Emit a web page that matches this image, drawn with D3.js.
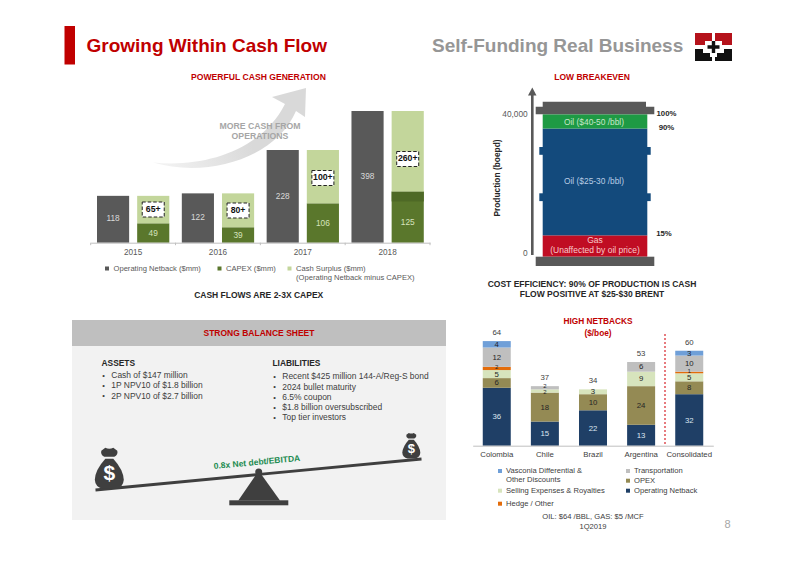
<!DOCTYPE html>
<html>
<head>
<meta charset="utf-8">
<script src="https://cdn.jsdelivr.net/npm/d3@7"></script>
<style>
  html, body { margin: 0; padding: 0; background: #fff; }
  svg { display: block; }
  text { font-family: "Liberation Sans", Arial, sans-serif; }
</style>
</head>
<body>
<svg id="chart" width="800" height="566"></svg>
<script>
// cash flow chart
const years = ["2015", "2016", "2017", "2018"];
const operatingNetback = [118, 122, 228, 398];
const capex = [49, 39, 106, 125];
const cashSurplus = [69, 83, 122, 273];
const surplusTags = ["65+", "80+", "100+", "260+"];

// breakeven chart (percent of production)
const breakevenLabels = ["Gas", "Oil ($25-30 /bbl)", "Oil ($40-50 /bbl)"];
const breakevenShares = [15, 75, 10];
const breakevenTicks = [0, 40000];

// netbacks chart
const countries = ["Colombia", "Chile", "Brazil", "Argentina", "Consolidated"];
const netbackTotals = [64, 37, 34, 53, 60];
const netbackSeries = ["Operating Netback", "OPEX", "Selling Expenses & Royalties", "Hedge / Other", "Transportation", "Vasconia Differential"];
const operatingNet = [36, 15, 22, 13, 32];
const opex = [6, 18, 10, 24, 8];
const selling = [5, 2, 3, 9, 5];
const hedge = [2, 0, 0, 0, 1];
const transportation = [12, 2, 0, 6, 10];
const vasconia = [4, 0, 0, 0, 3];

const assets = ["Cash of $147 million", "1P NPV10 of $1.8 billion", "2P NPV10 of $2.7 billion"];
const liabilities = ["Recent $425 million 144-A/Reg-S bond", "2024 bullet maturity", "6.5% coupon", "$1.8 billion oversubscribed", "Top tier investors"];

const red = "#c00000";
const svg = d3.select("#chart");
const defs = svg.append("defs");

function label(g, str, x, y, size, fill, opts) {
  opts = opts || {};
  return g.append("text")
    .text(str)
    .attr("x", x)
    .attr("y", y)
    .attr("font-size", size)
    .attr("fill", fill)
    .attr("text-anchor", opts.anchor || "middle")
    .attr("dominant-baseline", "middle")
    .attr("font-weight", opts.bold ? "bold" : "normal");
}

// Header
svg.append("rect").attr("x", 64.5).attr("y", 26).attr("width", 10.5).attr("height", 38.5).attr("fill", red);
label(svg, "Growing Within Cash Flow", 86.5, 47, 19, red, { anchor: "start", bold: true });
label(svg, "Self-Funding Real Business", 432, 47, 19, "#969696", { anchor: "start", bold: true });

// Logo
const logo = svg.append("g").attr("transform", "translate(695,33)");
logo.append("path").attr("fill", "#b5121b").attr("d", "M0,0H17V8H10V12H0Z M20,0H37V12H27V8H20Z");
logo.append("path").attr("fill", "#111").attr("d", "M0,16H8V20H15V24H17V28H0Z M29,16H37V28H20V24H22V20H29Z");
logo.append("path").attr("fill", "#111").attr("d", "M16.8,8H20.2V12.3H24.5V15.7H20.2V20H16.8V15.7H12.5V12.3H16.8Z");

// Panel 1: cash flow
const cashG = svg.append("g");
label(cashG, "POWERFUL CASH GENERATION", 258.5, 78, 8.6, red, { bold: true });

const swoosh = defs.append("linearGradient").attr("id", "swoosh").attr("x1", 0).attr("x2", 1).attr("y1", 0.6).attr("y2", 0.4);
swoosh.append("stop").attr("offset", 0).attr("stop-color", "#f2f2f2");
swoosh.append("stop").attr("offset", 0.6).attr("stop-color", "#d9d9d9");
cashG.append("path")
  .attr("fill", "url(#swoosh)")
  .attr("d", "M153,162.5 C205,168 262,150 285,104 L272,97 L306,88 L305,117 L296,111 C275,160 205,178 153,162.5Z");
label(cashG, "MORE CASH FROM", 260, 127, 8.7, "#a6a6a6", { bold: true });
label(cashG, "OPERATIONS", 260, 137, 8.7, "#a6a6a6", { bold: true });

// axis is broken in the source, the bars are not on one linear scale
const yCash = d3.scaleLinear()
  .domain([0, 49, 106, 125, 228, 398])
  .range([242.7, 223.3, 203.3, 191.5, 150, 111]);
const xYear = d3.scaleBand().domain(years).range([90.7, 430]);
const xInner = d3.scaleBand().domain(["netback", "other"]).range([6.3, 78.6]).paddingInner(0.2);

years.forEach((year, i) => {
  const g = cashG.append("g").attr("transform", `translate(${xYear(year)},0)`);
  const bw = xInner.bandwidth();
  g.append("rect").attr("x", xInner("netback")).attr("y", yCash(operatingNetback[i]))
    .attr("width", bw).attr("height", yCash(0) - yCash(operatingNetback[i])).attr("fill", "#595959");
  label(g, operatingNetback[i], xInner("netback") + bw / 2, (yCash(0) + yCash(operatingNetback[i])) / 2, 8.3, "#d9d9d9");
  g.append("rect").attr("x", xInner("other")).attr("y", yCash(capex[i]))
    .attr("width", bw).attr("height", yCash(0) - yCash(capex[i])).attr("fill", "#5a772c");
  // the 2018 bar has a darker band on top in the source
  const labelTop = i === 3 ? yCash(109) : yCash(capex[i]);
  if (i === 3) {
    g.append("rect").attr("x", xInner("other")).attr("y", yCash(capex[i]))
      .attr("width", bw).attr("height", labelTop - yCash(capex[i])).attr("fill", "#4e6926");
  }
  label(g, capex[i], xInner("other") + bw / 2, (yCash(0) + labelTop) / 2 + 0.5, 8.3, "#d7e4bd");
  const top = yCash(capex[i] + cashSurplus[i]);
  g.append("rect").attr("x", xInner("other")).attr("y", top)
    .attr("width", bw).attr("height", yCash(capex[i]) - top).attr("fill", "#c3d69b");
});

// Dashed surplus tags
const tagPos = [209.5, 210.5, 178, 159];
years.forEach((year, i) => {
  const cx = xYear(year) + xInner("other") + xInner.bandwidth() / 2;
  cashG.append("rect").attr("x", cx - 11).attr("y", tagPos[i] - 7.5).attr("width", 22).attr("height", 15)
    .attr("fill", "#fff").attr("stroke", "#222").attr("stroke-width", 1).attr("stroke-dasharray", "3.5,2");
  label(cashG, surplusTags[i], cx, tagPos[i], 8.7, "#111", { bold: true });
});

const cashAxis = cashG.append("g")
  .attr("transform", "translate(0,242.7)")
  .call(d3.axisBottom(xYear).tickSize(0).tickPadding(6));
cashAxis.select(".domain").attr("stroke", "#bfbfbf");
cashAxis.selectAll("text").attr("font-size", 8.2).attr("fill", "#595959").attr("font-family", null);
d3.range(5).forEach(i => {
  const x = 90.7 + i * xYear.step();
  cashAxis.append("line").attr("x1", x).attr("x2", x).attr("y1", 0).attr("y2", 2.5).attr("stroke", "#bfbfbf");
});

const cashLegend = [
  { text: "Operating Netback ($mm)", color: "#595959", x: 107 },
  { text: "CAPEX ($mm)", color: "#5a772c", x: 219.5 },
  { text: "Cash Surplus ($mm)", color: "#c3d69b", x: 289.5 }
];
cashLegend.forEach(d => {
  cashG.append("rect").attr("x", d.x - 2).attr("y", 266.5).attr("width", 4).attr("height", 4).attr("fill", d.color);
  label(cashG, d.text, d.x + 6.5, 268.8, 7.6, "#595959", { anchor: "start" });
});
label(cashG, "(Operating Netback minus CAPEX)", 296, 278, 7.6, "#595959", { anchor: "start" });
label(cashG, "CASH FLOWS ARE 2-3X CAPEX", 258.7, 296, 8.5, "#262626", { bold: true });

// Panel 2: breakeven
const beG = svg.append("g");
label(beG, "LOW BREAKEVEN", 592, 78, 8.5, red, { bold: true });
const yBe = d3.scaleLinear().domain([0, 100]).range([256.7, 114.3]);
const yProd = d3.scaleLinear().domain(breakevenTicks).range([254, 115]);
const beColors = ["#c00d23", "#134a7c", "#1e9a44"];
const xBe = { x: 542.7, w: 104.6 };

// side tabs behind the blue block
[147, 193.3].forEach(y => {
  beG.append("rect").attr("x", 539.3).attr("y", y).attr("width", 111.4).attr("height", 7.8).attr("fill", "#134a7c");
});
let cum = 0;
const beLayers = breakevenShares.map((v, i) => {
  const d = { y0: cum, y1: cum + v, color: beColors[i], name: breakevenLabels[i] };
  cum += v;
  return d;
});
beG.selectAll("rect.layer").data(beLayers).enter().append("rect")
  .attr("class", "layer")
  .attr("x", xBe.x).attr("width", xBe.w)
  .attr("y", d => yBe(d.y1))
  .attr("height", d => yBe(d.y0) - yBe(d.y1))
  .attr("fill", d => d.color);

// frame caps
beG.append("path").attr("fill", "#595959")
  .attr("d", "M542.7,101.7H646V106.7H654.3V114.3H535.7V106.7H542.7Z");
beG.append("rect").attr("x", 535.7).attr("y", 256.7).attr("width", 118.6).attr("height", 9.3).attr("fill", "#595959");

// axis arrow
beG.append("rect").attr("x", 531).attr("y", 93).attr("width", 2.6).attr("height", 162).attr("fill", "#595959");
beG.append("path").attr("fill", "#595959").attr("d", "M532.3,87.5L536.5,95.5H528Z");

breakevenTicks.forEach(t => {
  label(beG, d3.format(",")(t), 527.7, yProd(t), 8.3, "#595959", { anchor: "end" });
});
label(beG, "Production (boepd)", 0, 0, 8.4, "#262626", { bold: true })
  .attr("transform", "translate(498,178) rotate(-90)");

label(beG, "Oil ($40-50 /bbl)", 594, 122.5, 8.4, "#c8e6c9");
label(beG, "Oil ($25-30 /bbl)", 594, 182, 8.4, "#b8cce4");
label(beG, "Gas", 595, 240.5, 8.5, "#f8cbcb");
label(beG, "(Unaffected by oil price)", 595, 250.5, 8.5, "#f8cbcb");
[["100%", 666.5, 114], ["90%", 666.5, 128.3], ["15%", 664, 234]].forEach(d => {
  label(beG, d[0], d[1], d[2], 7.8, "#262626", { bold: true });
});
label(beG, "COST EFFICIENCY: 90% OF PRODUCTION IS CASH", 592, 285, 8.5, "#262626", { bold: true });
label(beG, "FLOW POSITIVE AT $25-$30 BRENT", 592, 295, 8.5, "#262626", { bold: true });

// Panel 3: balance sheet
const bsG = svg.append("g");
bsG.append("rect").attr("x", 72).attr("y", 320).attr("width", 374).attr("height", 200).attr("fill", "#f2f2f2");
bsG.append("rect").attr("x", 72).attr("y", 320).attr("width", 374).attr("height", 26).attr("fill", "#bfbfbf");
label(bsG, "STRONG BALANCE SHEET", 259, 334, 8.5, red, { bold: true });

function bulletList(title, items, x, titleY, firstY, step) {
  label(bsG, title, x, titleY, 8.4, "#262626", { anchor: "start", bold: true });
  items.forEach((t, i) => {
    label(bsG, "•", x + 2, firstY + i * step, 7.5, "#404040");
    label(bsG, t, x + 9.8, firstY + i * step, 8.45, "#404040", { anchor: "start" });
  });
}
bulletList("ASSETS", assets, 101.5, 364, 375.7, 10.3);
bulletList("LIABILITIES", liabilities, 272.5, 364, 377, 10.3);

const dark = "#3f3f3f";
bsG.append("line").attr("x1", 95.5).attr("y1", 490).attr("x2", 421.5).attr("y2", 459)
  .attr("stroke", dark).attr("stroke-width", 2.8);
bsG.append("path").attr("fill", dark).attr("d", "M258.7,470.7L280,500.5H238.3Z");
bsG.append("circle").attr("cx", 258.7).attr("cy", 472).attr("r", 3.5).attr("fill", dark);
bsG.append("rect").attr("x", 229.3).attr("y", 500.3).attr("width", 59).attr("height", 5).attr("fill", dark);

function moneyBag(cx, top, k) {
  const g = bsG.append("g").attr("transform", `translate(${cx},${top}) scale(${k})`);
  g.append("path").attr("fill", dark).attr("d", "M-4,0Q0,2 4,0L8,3Q9,7 5,9L-5,9Q-9,7 -8,3Z");
  g.append("path").attr("fill", dark).attr("d", "M-4,11L4,11Q14,22 14.5,32Q14,40 6,41L-6,41Q-14,40 -14.5,32Q-14,22 -4,11Z");
  label(g, "$", 0, 27, 21, "#fff", { bold: true });
}
moneyBag(109.3, 447.7, 1);
moneyBag(411.3, 433, 0.62);

label(bsG, "0.8x Net debt/EBITDA", 0, 0, 8.5, "#1a8a4f", { bold: true })
  .attr("transform", "translate(257,462.7) rotate(-5.4)");

// Panel 4: netbacks
const nbG = svg.append("g");
label(nbG, "HIGH NETBACKS", 598, 322, 8.3, red, { bold: true });
label(nbG, "($/boe)", 598, 334, 8.3, red, { bold: true });

const xCountry = d3.scaleBand().domain(countries).range([472.7, 713.3]).paddingInner(0.418).paddingOuter(0.209);
const yNet = d3.scaleLinear().domain([0, 64]).range([445.7, 342.7]);
const netColors = ["#1f3f66", "#948a54", "#d7e4bd", "#e36c0a", "#bfbfbf", "#6f9fd8"];
const netRows = countries.map((c, i) => {
  const values = [operatingNet, opex, selling, hedge, transportation, vasconia].map(s => s[i]);
  const row = { country: c };
  netbackSeries.forEach((s, j) => { row[s] = values[j]; });
  return row;
});
const stacked = d3.stack().keys(netbackSeries)(netRows);
stacked.forEach((layer, j) => {
  nbG.append("g").attr("fill", netColors[j])
    .selectAll("rect").data(layer).enter().append("rect")
    .attr("x", d => xCountry(d.data.country))
    .attr("width", xCountry.bandwidth())
    .attr("y", d => yNet(d[1]))
    .attr("height", d => yNet(d[0]) - yNet(d[1]));
});
stacked.forEach((layer, j) => {
  layer.forEach(d => {
    const v = d[1] - d[0];
    if (!v) return;
    // thin segments get a smaller number, pushed apart so they stay readable
    const thin = v <= 2;
    let nudge = 0.5;
    if (thin) nudge = j === 2 ? 1.5 : -1;
    label(nbG, v, xCountry(d.data.country) + xCountry.bandwidth() / 2, (yNet(d[0]) + yNet(d[1])) / 2 + nudge, thin ? 6 : 7.8, j === 0 ? "#dce6f1" : "#262626");
  });
});
countries.forEach((c, i) => {
  const cx = xCountry(c) + xCountry.bandwidth() / 2;
  const top = stacked[stacked.length - 1][i][1];
  label(nbG, netbackTotals[i], cx, yNet(top) - 8, 7.8, "#404040");
});

const nbAxis = nbG.append("g").attr("transform", "translate(0,445.7)")
  .call(d3.axisBottom(xCountry).tickSize(0).tickPadding(6));
nbAxis.select(".domain").attr("stroke", "#bfbfbf");
nbAxis.selectAll("text").attr("font-size", 7.8).attr("fill", "#404040").attr("font-family", null);

nbG.append("line").attr("x1", 665).attr("x2", 665).attr("y1", 334).attr("y2", 445.7)
  .attr("stroke", "#d8232a").attr("stroke-width", 1.2).attr("stroke-dasharray", "2,2");

const netLegend = [
  { lines: ["Vasconia Differential &", "Other Discounts"], color: netColors[5], x: 500, y: 471 },
  { lines: ["Selling Expenses & Royalties"], color: netColors[2], x: 500, y: 490.7 },
  { lines: ["Hedge / Other"], color: netColors[3], x: 500, y: 503.7 },
  { lines: ["Transportation"], color: netColors[4], x: 628, y: 471 },
  { lines: ["OPEX"], color: netColors[1], x: 628, y: 480.7 },
  { lines: ["Operating Netback"], color: netColors[0], x: 628, y: 490.7 }
];
netLegend.forEach(d => {
  nbG.append("rect").attr("x", d.x - 2).attr("y", d.y - 2).attr("width", 4).attr("height", 4).attr("fill", d.color);
  d.lines.forEach((t, i) => {
    label(nbG, t, d.x + 6, d.y + i * 9.3, 7.6, "#404040", { anchor: "start" });
  });
});
label(nbG, "OIL: $64 /BBL, GAS: $5 /MCF", 593, 517, 7.6, "#404040");
label(nbG, "1Q2019", 593, 526.5, 7.6, "#404040");

label(svg, "8", 727.5, 525, 11, "#a6a6a6");
</script>
</body>
</html>
